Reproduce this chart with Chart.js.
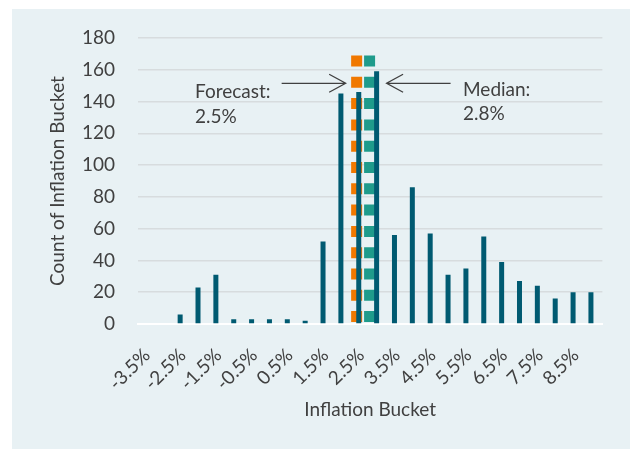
<!DOCTYPE html>
<html>
<head>
<meta charset="utf-8">
<script src="https://cdn.jsdelivr.net/npm/chart.js@4.4.1/dist/chart.umd.min.js"></script>
<style>
  html, body { margin: 0; padding: 0; background: #fff; }
  #wrap { width: 630px; height: 449px; position: relative; }
</style>
</head>
<body>
<div id="wrap"><canvas id="histChart"></canvas></div>
<script>
// inflation buckets (x categories)
const buckets = ['-3.5%', '-3.0%', '-2.5%', '-2.0%', '-1.5%', '-1.0%', '-0.5%', '0.0%', '0.5%', '1.0%',
  '1.5%', '2.0%', '2.5%', '3.0%', '3.5%', '4.0%', '4.5%', '5.0%', '5.5%', '6.0%',
  '6.5%', '7.0%', '7.5%', '8.0%', '8.5%', '9.0%'];

// count of forecasts in each bucket
const counts = [0, 0, 6, 23, 31, 3, 3, 3, 3, 2,
  52, 145, 146, 159, 56, 86, 57, 31, 35, 55,
  39, 27, 24, 16, 20, 20];

// marker lines, position in bucket units
const forecastPos = 11.59;
const medianPos = 12.46;
const markerTop = 169;

const yTicks = [0, 20, 40, 60, 80, 100, 120, 140, 160, 180];

const textColor = '#404040';
const fontFamily = 'Lato, "Open Sans", sans-serif';

// panel background + the two arrow notes
const notes = {
  id: 'notes',
  beforeDraw(chart) {
    const ctx = chart.ctx;
    ctx.save();
    ctx.fillStyle = '#ffffff';
    ctx.fillRect(0, 0, chart.width, chart.height);
    ctx.fillStyle = '#e8f1f4';
    ctx.fillRect(12, 9, chart.width - 12, chart.height - 9);
    ctx.restore();
  },
  afterDraw(chart) {
    const ctx = chart.ctx;
    const x2 = chart.scales.x2;
    const y = chart.scales.y;
    const fx = x2.getPixelForValue(forecastPos);
    const mx = x2.getPixelForValue(medianPos);
    const ay = y.getPixelForValue(151.5);

    ctx.save();
    ctx.strokeStyle = textColor;
    ctx.lineWidth = 1.3;

    // forecast arrow, pointing right
    const ft = fx - 11;
    ctx.beginPath();
    ctx.moveTo(ft - 64, ay);
    ctx.lineTo(ft, ay);
    ctx.moveTo(ft - 16.5, ay - 9);
    ctx.lineTo(ft, ay);
    ctx.lineTo(ft - 16.5, ay + 9);
    ctx.stroke();

    // median arrow, pointing left
    const mt = mx + 17;
    ctx.beginPath();
    ctx.moveTo(mt + 64, ay);
    ctx.lineTo(mt, ay);
    ctx.moveTo(mt + 16.5, ay - 9);
    ctx.lineTo(mt, ay);
    ctx.lineTo(mt + 16.5, ay + 9);
    ctx.stroke();

    ctx.fillStyle = textColor;
    ctx.font = '19px ' + fontFamily;
    ctx.textAlign = 'left';
    ctx.textBaseline = 'alphabetic';
    ctx.fillText('Forecast:', 195, 97.5);
    ctx.fillText('2.5%', 195, 123);
    ctx.fillText('Median:', 463, 96);
    ctx.fillText('2.8%', 463, 119.5);
    ctx.restore();
  }
};

new Chart(document.getElementById('histChart'), {
  type: 'bar',
  data: {
    labels: buckets,
    datasets: [
      {
        label: 'Count of Inflation Bucket',
        data: counts,
        backgroundColor: '#005a71',
        barThickness: 5,
        inflateAmount: 0,
        order: 0
      },
      {
        type: 'line',
        label: 'Forecast',
        xAxisID: 'x2',
        data: [{ x: forecastPos, y: markerTop }, { x: forecastPos, y: 0 }],
        borderColor: '#f07800',
        borderWidth: 11,
        borderDash: [11, 10.3],
        borderCapStyle: 'butt',
        pointRadius: 0,
        order: 1
      },
      {
        type: 'line',
        label: 'Median',
        xAxisID: 'x2',
        data: [{ x: medianPos, y: markerTop }, { x: medianPos, y: 0 }],
        borderColor: '#1f9b8b',
        borderWidth: 11,
        borderDash: [11, 10.3],
        borderCapStyle: 'butt',
        pointRadius: 0,
        order: 1
      }
    ]
  },
  options: {
    responsive: true,
    maintainAspectRatio: false,
    animation: false,
    layout: { padding: { left: 42, right: 23, top: 38, bottom: 24 } },
    plugins: {
      legend: { display: false },
      tooltip: { enabled: false }
    },
    scales: {
      x: {
        type: 'category',
        grid: { display: false, drawTicks: false },
        border: { display: true, color: '#ffffff', width: 2 },
        ticks: {
          autoSkip: false,
          minRotation: 45,
          maxRotation: 45,
          padding: 20,
          color: textColor,
          font: { family: fontFamily, size: 19 },
          callback: (val, i) => (i % 2 === 0 ? buckets[i] : '')
        },
        title: {
          display: true,
          text: 'Inflation Bucket',
          color: textColor,
          font: { family: fontFamily, size: 19 }
        },
        afterFit: (scale) => { scale.height = 101; }
      },
      x2: {
        type: 'linear',
        display: false,
        min: -0.5,
        max: buckets.length - 0.5
      },
      y: {
        min: 0,
        max: 180,
        grid: { color: '#d7dcde', lineWidth: 1.5, drawTicks: false },
        border: { display: false },
        afterBuildTicks: (scale) => { scale.ticks = yTicks.map(v => ({ value: v })); },
        ticks: {
          padding: 23,
          color: textColor,
          font: { family: fontFamily, size: 19 }
        },
        title: {
          display: true,
          text: 'Count of Inflation Bucket',
          color: textColor,
          font: { family: fontFamily, size: 19 }
        },
        afterFit: (scale) => { scale.width = 96; }
      }
    }
  },
  plugins: [notes]
});
</script>
</body>
</html>
